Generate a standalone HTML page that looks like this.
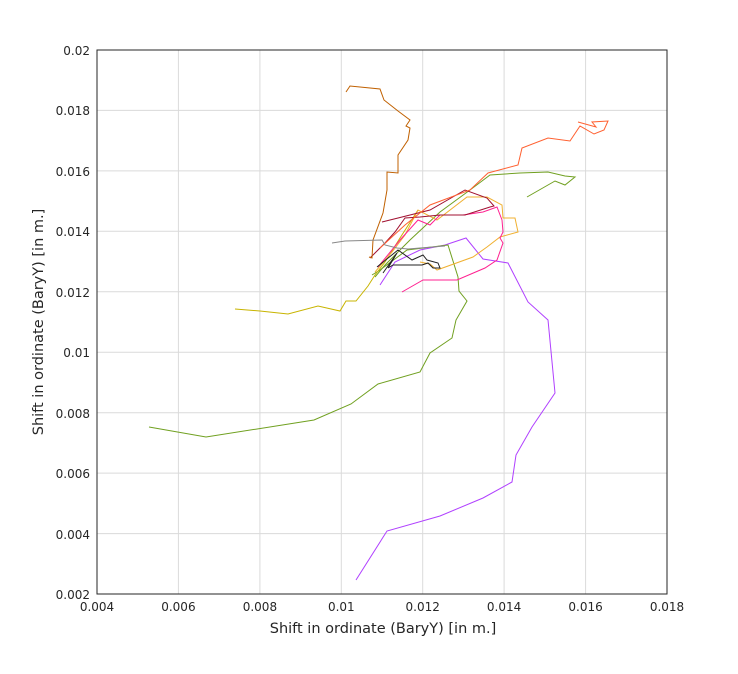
<!DOCTYPE html>
<html><head><style>
body{margin:0;background:#fff;}
svg text{font-family:"DejaVu Sans","Liberation Sans",sans-serif;fill:#262626;}
</style></head><body>
<svg width="738" height="669" viewBox="0 0 738 669" xmlns="http://www.w3.org/2000/svg">
<rect width="738" height="669" fill="#fff"/>
<g stroke="#dadada" stroke-width="1">
<line x1="178.4" y1="50" x2="178.4" y2="594"/><line x1="259.9" y1="50" x2="259.9" y2="594"/>
<line x1="341.3" y1="50" x2="341.3" y2="594"/><line x1="422.7" y1="50" x2="422.7" y2="594"/>
<line x1="504.1" y1="50" x2="504.1" y2="594"/><line x1="585.6" y1="50" x2="585.6" y2="594"/>
<line x1="97" y1="110.4" x2="667" y2="110.4"/><line x1="97" y1="170.9" x2="667" y2="170.9"/>
<line x1="97" y1="231.3" x2="667" y2="231.3"/><line x1="97" y1="291.8" x2="667" y2="291.8"/>
<line x1="97" y1="352.2" x2="667" y2="352.2"/><line x1="97" y1="412.7" x2="667" y2="412.7"/>
<line x1="97" y1="473.1" x2="667" y2="473.1"/><line x1="97" y1="533.6" x2="667" y2="533.6"/>
</g>
<rect x="97" y="50" width="570" height="544" fill="none" stroke="#262626" stroke-width="1"/>
<g fill="none" stroke-width="1">
<polyline stroke="#b040ff" points="356,580 387,531 440,516 483,498 512,482 516,455 532,427 555,393 548,320 528,302 508,263 483,259 466,238 445,245 420,250 395,262 380,285"/>
<polyline stroke="#70a020" points="149,427 206,437 314,420 351,404 378,384 420,372 430,353 452,338 456,320 467,301 459,291 458,277 448,245 407,250 380,270 372,275"/>
<polyline stroke="#70a020" points="527,197 555,181 565,185 575,177 565,176 548,172 520,173 490,175 470,190 440,212 410,240 385,265 375,277"/>
<polyline stroke="#c8b400" points="235,309 260,311 288,314 318,306 340,311 346,301 356,301 368,286 375,275 385,262 400,238 418,210"/>
<polyline stroke="#f0b030" points="375,272 392,252 405,235 418,210 437,220 467,197 487,197 502,205 503,218 515,218 518,232 500,237 487,247 473,257 437,270 430,264 420,262"/>
<polyline stroke="#ff2090" points="402,292 423,280 457,280 485,268 497,260 503,243 500,238 503,232 502,220 497,207 483,212 463,215 440,215 430,225 418,220 400,240 378,267"/>
<polyline stroke="#a01030" points="370,258 385,243 395,232 405,218 420,217 440,215 465,215 490,207 494,206 487,198 465,190 430,210 382,222"/>
<polyline stroke="#ff6030" points="380,248 405,225 430,205 470,190 488,173 518,165 522,148 548,138 570,141 580,126 594,134 604,130 608,121 592,122 596,127 578,122"/>
<polyline stroke="#c06000" points="346,92 350,86 380,89 384,100 398,111 410,120 406,126 410,128 408,140 398,155 398,173 387,172 387,190 383,213 373,240 372,258 369,257"/>
<polyline stroke="#888888" points="332,243 345,241 382,240 385,245 397,248 408,249 420,248 445,246"/>
<polyline stroke="#222222" points="377,267 398,250 412,260 423,255 427,260 438,263 440,268 433,268 428,263 422,265 393,265 388,268 397,253 383,273"/>
</g>
<g font-size="12" text-anchor="middle">
<text x="97" y="611">0.004</text><text x="178.4" y="611">0.006</text><text x="259.9" y="611">0.008</text>
<text x="341.3" y="611">0.01</text><text x="422.7" y="611">0.012</text><text x="504.1" y="611">0.014</text>
<text x="585.6" y="611">0.016</text><text x="667" y="611">0.018</text>
</g>
<g font-size="12" text-anchor="end">
<text x="90" y="55">0.02</text><text x="90" y="115">0.018</text><text x="90" y="176">0.016</text>
<text x="90" y="236">0.014</text><text x="90" y="297">0.012</text><text x="90" y="357">0.01</text>
<text x="90" y="418">0.008</text><text x="90" y="478">0.006</text><text x="90" y="539">0.004</text>
<text x="90" y="599">0.002</text>
</g>
<text x="383" y="633" font-size="14.5" text-anchor="middle">Shift in ordinate (BaryY) [in m.]</text>
<text transform="translate(43,322) rotate(-90)" font-size="14.5" text-anchor="middle">Shift in ordinate (BaryY) [in m.]</text>
</svg>
</body></html>
